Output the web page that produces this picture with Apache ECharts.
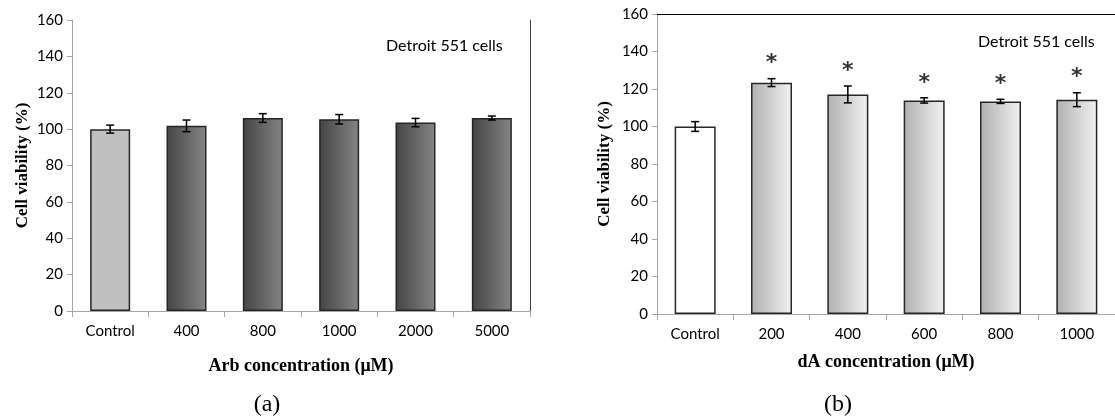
<!DOCTYPE html>
<html>
<head>
<meta charset="utf-8">
<script src="https://cdn.jsdelivr.net/npm/echarts@6/dist/echarts.min.js"></script>
<style>
html, body { margin: 0; padding: 0; background: #fff; }
#chart { width: 1115px; height: 420px; }
</style>
</head>
<body>
<div id="chart"></div>
<script>
// (a) Arb
var arbCats = ['Control', '400', '800', '1000', '2000', '5000'];
var arbMean = [100, 101.8, 106.1, 105.4, 103.6, 106.1];
var arbErr = [2.2, 3.2, 2.4, 2.6, 2.3, 1.1];
// (b) dA
var daCats = ['Control', '200', '400', '600', '800', '1000'];
var daMean = [100, 123.4, 117.1, 113.9, 113.4, 114.3];
var daErr = [2.6, 2.1, 4.5, 1.4, 1.1, 3.7];
var daStar = ['', '*', '*', '*', '*', '*'];

var tickFont = 'Lato, "Open Sans", sans-serif';
var serif = '"Liberation Serif", "DejaVu Serif", serif';

function darkGrad() {
    return new echarts.graphic.LinearGradient(0, 0, 1, 0, [
        {offset: 0, color: '#444444'}, {offset: 1, color: '#858585'}]);
}
function lightGrad() {
    return new echarts.graphic.LinearGradient(0, 0, 1, 0, [
        {offset: 0, color: '#b0b0b0'}, {offset: 1, color: '#f2f2f2'}]);
}

function errData(mean, err) {
    var out = [];
    for (var i = 0; i < mean.length; i++) out.push([i, mean[i] - err[i], mean[i] + err[i]]);
    return out;
}

function renderErr(params, api) {
    var x = api.value(0);
    var lo = api.coord([x, api.value(1)]);
    var hi = api.coord([x, api.value(2)]);
    var w = 4;
    var st = {stroke: '#000', lineWidth: 1.5};
    return {
        type: 'group',
        children: [
            {type: 'line', shape: {x1: lo[0], y1: lo[1], x2: hi[0], y2: hi[1]}, style: st},
            {type: 'line', shape: {x1: lo[0] - w, y1: lo[1], x2: lo[0] + w, y2: lo[1]}, style: st},
            {type: 'line', shape: {x1: hi[0] - w, y1: hi[1], x2: hi[0] + w, y2: hi[1]}, style: st}
        ]
    };
}

function valueAxis(grid, gap) {
    return {
        type: 'value', gridIndex: grid, min: 0, max: 160, interval: 20,
        name: 'Cell viability (%)', nameLocation: 'middle', nameGap: gap,
        nameTextStyle: {fontFamily: serif, fontWeight: 'bold', fontSize: 17, color: '#000'},
        axisLine: {show: true, lineStyle: {color: '#a6a6a6', width: 1}},
        axisTick: {show: true, length: 5, lineStyle: {color: '#a6a6a6'}},
        axisLabel: {fontFamily: tickFont, fontSize: 15, color: '#000', margin: 9},
        splitLine: {show: false}
    };
}
function borderY(grid) {
    return {
        type: 'value', gridIndex: grid, min: 0, max: 160, position: 'right',
        axisLine: {show: true, lineStyle: {color: '#404040', width: 1}},
        axisTick: {show: false}, axisLabel: {show: false}, splitLine: {show: false}
    };
}
function catAxis(grid, cats, name, gap) {
    return {
        type: 'category', gridIndex: grid, data: cats, z: 10,
        name: name, nameLocation: 'middle', nameGap: gap,
        nameTextStyle: {fontFamily: serif, fontWeight: 'bold', fontSize: 18, color: '#000'},
        axisLine: {show: true, lineStyle: {color: '#a6a6a6', width: 1}},
        axisTick: {show: true, length: 6, lineStyle: {color: '#a6a6a6'}},
        axisLabel: {fontFamily: tickFont, fontSize: 15, color: '#000', margin: 13}
    };
}
function borderX(grid, cats) {
    return {
        type: 'category', gridIndex: grid, data: cats, position: 'top',
        axisLine: {show: true, lineStyle: {color: '#000', width: 1}},
        axisTick: {show: false}, axisLabel: {show: false}
    };
}

var arbColors = arbMean.map(function (v, i) { return i === 0 ? '#c0c0c0' : darkGrad(); });
var daColors = daMean.map(function (v, i) { return i === 0 ? '#ffffff' : lightGrad(); });

var myChart = echarts.init(document.getElementById('chart'));

var option = {
    animation: false,
    grid: [
        {left: 72, top: 20, width: 458, height: 291},
        {left: 657, top: 14, width: 465, height: 300}
    ],
    xAxis: [
        catAxis(0, arbCats, 'Arb concentration (\u03bcM)', 46),
        borderX(0, arbCats),
        catAxis(1, daCats, 'dA concentration (\u03bcM)', 39),
        borderX(1, daCats)
    ],
    yAxis: [
        valueAxis(0, 41),
        borderY(0),
        valueAxis(1, 44)
    ],
    graphic: [
        {type: 'text', left: 386, top: 38, style: {text: 'Detroit 551 cells', font: '16px ' + tickFont, fill: '#000'}},
        {type: 'text', left: 978, top: 34, style: {text: 'Detroit 551 cells', font: '16px ' + tickFont, fill: '#000'}},
        {type: 'text', x: 267, y: 405, style: {text: '(a)', font: '24px ' + serif, fill: '#000', align: 'center', verticalAlign: 'middle'}},
        {type: 'text', x: 838, y: 405, style: {text: '(b)', font: '24px ' + serif, fill: '#000', align: 'center', verticalAlign: 'middle'}}
    ],
    series: [
        {
            type: 'bar', xAxisIndex: 0, yAxisIndex: 0, barWidth: 40,
            data: arbMean.map(function (v, i) {
                return {value: v, itemStyle: {color: arbColors[i]}};
            }),
            itemStyle: {borderColor: '#262626', borderWidth: 1.5}
        },
        {
            type: 'custom', xAxisIndex: 0, yAxisIndex: 0, renderItem: renderErr,
            data: errData(arbMean, arbErr), z: 5
        },
        {
            type: 'bar', xAxisIndex: 2, yAxisIndex: 2, barWidth: 41,
            data: daMean.map(function (v, i) {
                return {value: v, itemStyle: {color: daColors[i]}};
            }),
            itemStyle: {borderColor: '#262626', borderWidth: 1.5}
        },
        {
            type: 'custom', xAxisIndex: 2, yAxisIndex: 2, renderItem: renderErr,
            data: errData(daMean, daErr), z: 5
        },
        {
            type: 'scatter', xAxisIndex: 2, yAxisIndex: 2, symbolSize: 0,
            data: daMean.map(function (v, i) { return [i, v + daErr[i]]; }),
            label: {
                show: true, position: 'top', distance: 4,
                formatter: function (p) { return daStar[p.dataIndex]; },
                fontFamily: '"DejaVu Sans", sans-serif', fontWeight: 'bold', fontSize: 22, color: '#000'
            }
        }
    ]
};

myChart.setOption(option);
</script>
</body>
</html>
